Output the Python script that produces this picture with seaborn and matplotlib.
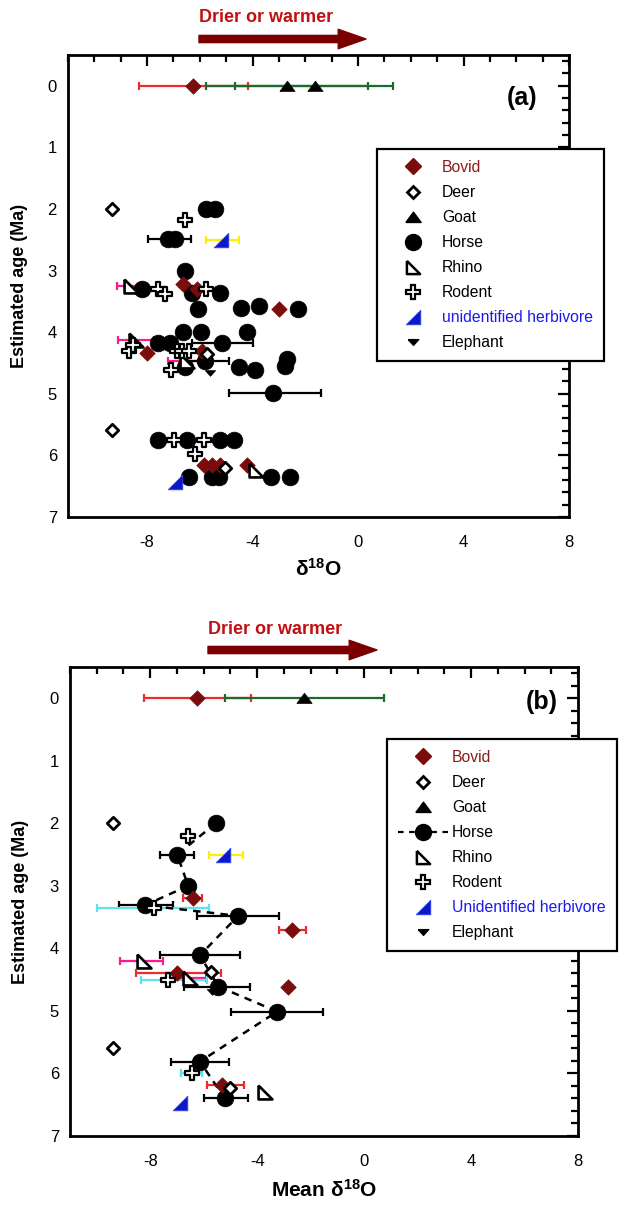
import matplotlib
matplotlib.use("Agg")
import matplotlib.pyplot as plt
import seaborn as sns
from matplotlib.lines import Line2D
from matplotlib.ticker import MultipleLocator, FixedLocator

# ---------------- Panel (a) data ----------------
a_bovid_x = [-6.26, -6.63, -6.10, -3.00, -8.00, -5.92, -5.86, -5.54, -5.22, -4.22]
a_bovid_y = [0.0, 3.22, 3.30, 3.62, 4.33, 4.30, 6.15, 6.15, 6.15, 6.15]
a_deer_x = [-9.35, -5.73, -9.35, -5.03]
a_deer_y = [2.0, 4.36, 5.58, 6.20]
a_goat_x = [-2.69, -1.63]
a_goat_y = [0.0, 0.0]
a_horse_x = [-5.77, -5.41, -7.20, -6.95, -6.56, -8.19, -6.30, -5.22, -6.06, -4.45, -3.74, -2.27,
             -6.63, -5.95, -4.20, -7.59, -7.14, -5.15, -5.81, -6.56, -4.50, -3.91, -2.78, -2.69,
             -3.23, -7.59, -6.50, -5.22, -4.70, -6.43, -5.54, -5.28, -3.30, -2.59]
a_horse_y = [2.0, 2.0, 2.48, 2.48, 3.0, 3.30, 3.36, 3.36, 3.62, 3.60, 3.58, 3.62,
             4.0, 4.0, 3.99, 4.18, 4.18, 4.18, 4.47, 4.56, 4.56, 4.62, 4.55, 4.44,
             4.98, 5.75, 5.75, 5.75, 5.75, 6.35, 6.35, 6.35, 6.35, 6.35]
a_rhino_x = [-8.60, -8.42, -6.50, -3.87]
a_rhino_y = [3.25, 4.13, 4.46, 6.24]
a_rodent_x = [-6.56, -7.59, -7.33, -5.77, -8.68, -8.55, -6.88, -6.69, -6.43, -7.08, -6.99, -5.83, -6.20]
a_rodent_y = [2.18, 3.30, 3.38, 3.30, 4.30, 4.20, 4.30, 4.30, 4.30, 4.62, 5.75, 5.75, 5.97]
a_unid_x = [-5.20, -6.95]
a_unid_y = [2.50, 6.43]
a_eleph_x = [-5.63]
a_eleph_y = [4.66]

a_err_group = ["Bovid", "Goat", "Goat", "Horse", "Unid", "Rhino", "Rhino", "Horse", "Rhino", "Horse", "Horse"]
a_err_x = [-6.24, -2.69, -1.66, -7.15, -5.14, -8.60, -8.42, -5.15, -6.50, -5.81, -3.15]
a_err_y = [0.0, 0.0, 0.0, 2.48, 2.50, 3.25, 4.13, 4.18, 4.46, 4.47, 4.98]
a_err_xerr = [2.07, 3.08, 3.00, 0.80, 0.63, 0.55, 0.70, 1.15, 0.70, 0.90, 1.75]

# ---------------- Panel (b) data ----------------
b_bovid_x = [-6.24, -6.41, -2.68, -7.01, -2.84, -5.31]
b_bovid_y = [0.0, 3.20, 3.71, 4.39, 4.61, 6.19]
b_deer_x = [-9.38, -5.73, -9.38, -5.02]
b_deer_y = [2.0, 4.37, 5.60, 6.24]
b_goat_x = [-2.24]
b_goat_y = [0.0]
b_horse_x = [-5.55, -6.99, -6.58, -8.20, -4.71, -6.14, -5.45, -3.25, -6.14, -5.21]
b_horse_y = [2.0, 2.50, 3.0, 3.31, 3.48, 4.11, 4.61, 5.01, 5.81, 6.40]
b_rhino_x = [-8.23, -6.51, -3.71]
b_rhino_y = [4.20, 4.48, 6.29]
b_rodent_x = [-6.58, -7.85, -7.33, -6.45]
b_rodent_y = [2.21, 3.35, 4.50, 6.0]
b_unid_x = [-5.27, -6.89]
b_unid_y = [2.50, 6.48]
b_eleph_x = [-5.70]
b_eleph_y = [4.70]

b_err_group = ["Bovid", "Goat", "Horse", "Unid", "Bovid", "Horse", "Rodent", "Horse", "Bovid",
               "Horse", "Rhino", "Bovid", "Rhino", "Rodent", "Horse", "Horse", "Horse", "Rodent",
               "Bovid", "Horse"]
b_err_x = [-6.24, -2.24, -6.99, -5.16, -6.41, -8.16, -7.90, -4.71, -2.68,
           -6.14, -8.32, -6.95, -6.50, -7.12, -5.50, -3.25, -6.14, -6.45,
           -5.20, -5.15]
b_err_y = [0.0, 0.0, 2.50, 2.50, 3.20, 3.31, 3.35, 3.48, 3.71,
           4.11, 4.20, 4.39, 4.48, 4.50, 4.61, 5.01, 5.81, 6.0,
           6.19, 6.40]
b_err_xerr = [2.00, 2.98, 0.63, 0.64, 0.35, 1.00, 2.10, 1.53, 0.49,
              1.50, 0.81, 1.58, 0.60, 1.23, 1.23, 1.72, 1.07, 0.40,
              0.69, 0.82]

x_ticks = [-8, -4, 0, 4, 8]
y_ticks = [0, 1, 2, 3, 4, 5, 6, 7]

# ---------------- styles ----------------
sns.set_style("white")
plt.rcParams["font.family"] = ["Liberation Sans", "DejaVu Sans"]
plt.rcParams["mathtext.fontset"] = "custom"
plt.rcParams["mathtext.rm"] = "Liberation Sans"
plt.rcParams["mathtext.bf"] = "Liberation Sans:bold"
plt.rcParams["mathtext.default"] = "bf"
for k in ["text.color", "axes.labelcolor", "xtick.color", "ytick.color", "axes.edgecolor"]:
    plt.rcParams[k] = "black"

BOVID = "#7b0c0c"
UNID = "#0b17c8"
RHINO_M = [(-1, 1), (-1, -1), (1, -1), (-1, 1)]
UNID_M = [(1, 1), (1, -1), (-1, -1), (1, 1)]
GOAT_M = [(-1, -0.65), (1, -0.65), (0, 0.7), (-1, -0.65)]
ELEPH_M = [(-1, 0.55), (1, 0.55), (0, -0.55), (-1, 0.55)]

err_colors = {"Bovid": "#ee2a2a", "Goat": "#1c6b2c", "Horse": "black", "Unid": "#ffee00",
              "Rhino": "#ff1a8c", "Rodent": "#5ee3f2"}

sty = {
    "Horse": dict(marker="o", s=145, color="black", edgecolor="black", linewidth=0.5),
    "Bovid": dict(marker="D", s=62, color=BOVID, edgecolor=BOVID, linewidth=0.5),
    "Deer": dict(marker="D", s=40, color="white", edgecolor="black", linewidth=2.0),
    "Goat": dict(marker=GOAT_M, s=120, color="black", edgecolor="black", linewidth=0.5),
    "Rhino": dict(marker=RHINO_M, s=100, color="white", edgecolor="black", linewidth=1.9),
    "Rodent": dict(marker="P", s=110, color="white", edgecolor="black", linewidth=1.6),
    "Unid": dict(marker=UNID_M, s=110, color=UNID, edgecolor="#3344ee", linewidth=0.6),
    "Elephant": dict(marker=ELEPH_M, s=55, color="black", edgecolor="black", linewidth=0.5),
}

fig = plt.figure(figsize=(6.27, 12.06), dpi=100)
W, H = 627.0, 1206.0
ax_a = fig.add_axes([68 / W, 1 - 517 / H, (569 - 68) / W, (517 - 55) / H])
ax_b = fig.add_axes([70 / W, 1 - 1136 / H, (578 - 70) / W, (1136 - 667) / H])


def draw_panel(ax, series, err_group, err_x, err_y, err_xerr):
    for g, x, y, e in zip(err_group, err_x, err_y, err_xerr):
        ax.errorbar([x], [y], xerr=[e], fmt="none", ecolor=err_colors[g], elinewidth=1.6,
                    capsize=3.2, capthick=1.6, zorder=2)
    for name, (xs, ys) in series:
        sns.scatterplot(x=xs, y=ys, ax=ax, zorder=4, legend=False, **sty[name])


def style_axes(ax):
    ax.set_xlim(-11, 8)
    ax.set_ylim(7, -0.5)
    ax.xaxis.set_major_locator(FixedLocator(x_ticks))
    ax.xaxis.set_minor_locator(MultipleLocator(1))
    ax.yaxis.set_major_locator(FixedLocator(y_ticks))
    ax.yaxis.set_minor_locator(MultipleLocator(0.2))
    ax.set_xticklabels([str(t) for t in x_ticks])
    ax.set_yticklabels([str(t) for t in y_ticks])
    ax.tick_params(which="both", direction="in", top=True, right=True, width=1.6,
                   colors="black", labelcolor="black")
    ax.tick_params(which="major", length=8)
    ax.tick_params(which="minor", length=5)
    ax.tick_params(axis="x", which="major", pad=13, labelsize=12)
    ax.tick_params(axis="y", which="major", pad=8, labelsize=12)
    for sp in ax.spines.values():
        sp.set_linewidth(2)
        sp.set_color("black")
    ax.grid(False)
    ax.set_facecolor("white")


# Panel (a)
draw_panel(ax_a, [("Horse", (a_horse_x, a_horse_y)), ("Bovid", (a_bovid_x, a_bovid_y)),
                  ("Deer", (a_deer_x, a_deer_y)), ("Goat", (a_goat_x, a_goat_y)),
                  ("Rhino", (a_rhino_x, a_rhino_y)), ("Rodent", (a_rodent_x, a_rodent_y)),
                  ("Unid", (a_unid_x, a_unid_y)), ("Elephant", (a_eleph_x, a_eleph_y))],
           a_err_group, a_err_x, a_err_y, a_err_xerr)
style_axes(ax_a)

# Panel (b)
sns.lineplot(x=b_horse_x, y=b_horse_y, ax=ax_b, sort=False, estimator=None, color="black",
             linewidth=1.8, linestyle=(0, (3, 2.5)), zorder=3)
draw_panel(ax_b, [("Horse", (b_horse_x, b_horse_y)), ("Bovid", (b_bovid_x, b_bovid_y)),
                  ("Deer", (b_deer_x, b_deer_y)), ("Goat", (b_goat_x, b_goat_y)),
                  ("Rhino", (b_rhino_x, b_rhino_y)), ("Rodent", (b_rodent_x, b_rodent_y)),
                  ("Unid", (b_unid_x, b_unid_y)), ("Elephant", (b_eleph_x, b_eleph_y))],
           b_err_group, b_err_x, b_err_y, b_err_xerr)
style_axes(ax_b)

# Axis labels
for ax, xl, xlab_y, ylab_x in [(ax_a, "δ$^{18}$O", -0.1126, -0.096),
                               (ax_b, "Mean δ$^{18}$O", -0.115, -0.098)]:
    ax.set_xlabel(xl, fontsize=15, fontweight="bold", color="black")
    ax.xaxis.set_label_coords(0.5, xlab_y)
    ax.xaxis.label.set_va("center")
    ax.set_ylabel("Estimated age (Ma)", fontsize=13, fontweight="bold", color="black")
    ax.yaxis.set_label_coords(ylab_x, 0.5)
    ax.yaxis.label.set_va("center")

ax_a.text(0.907, 0.907, "(a)", transform=ax_a.transAxes, fontsize=18, fontweight="bold",
          ha="center", va="center", color="black")
ax_b.text(0.928, 0.925, "(b)", transform=ax_b.transAxes, fontsize=18, fontweight="bold",
          ha="center", va="center", color="black")

# "Drier or warmer" arrows
for tx, ty, x0, x1, ay in [(266, 18, 199, 366, 39), (275, 629, 208, 377, 650)]:
    fig.text(tx / W, 1 - ty / H, "Drier or warmer", color="#c21010", fontsize=13,
             fontweight="bold", ha="center", va="center")
    fig.patches.append(matplotlib.patches.FancyArrowPatch(
        (x0 / W, 1 - ay / H), (x1 / W, 1 - ay / H), transform=fig.transFigure,
        arrowstyle="simple,head_length=1.0,head_width=0.7,tail_width=0.26",
        mutation_scale=20, color="#7a0000", shrinkA=0, shrinkB=0))


# Legends
def make_handles(horse_line):
    hs = [
        Line2D([], [], ls="none", marker="D", ms=7.8, mfc=BOVID, mec=BOVID),
        Line2D([], [], ls="none", marker="D", ms=6.3, mfc="white", mec="black", mew=2),
        Line2D([], [], ls="none", marker=GOAT_M, ms=11, mfc="black", mec="black"),
        Line2D([], [], ls=(0, (2.5, 2.5)) if horse_line else "none", lw=1.6, color="black",
               marker="o", ms=11.5, mfc="black", mec="black"),
        Line2D([], [], ls="none", marker=RHINO_M, ms=9.5, mfc="white", mec="black", mew=1.8),
        Line2D([], [], ls="none", marker="P", ms=10.5, mfc="white", mec="black", mew=1.6),
        Line2D([], [], ls="none", marker=UNID_M, ms=10.5, mfc=UNID, mec="#3344ee", mew=0.6),
        Line2D([], [], ls="none", marker=ELEPH_M, ms=7.5, mfc="black", mec="black"),
    ]
    return hs


for (lx, ly, unid_label, horse_line) in [(377, 149, "unidentified herbivore", False),
                                         (387, 739, "Unidentified herbivore", True)]:
    labels = ["Bovid", "Deer", "Goat", "Horse", "Rhino", "Rodent", unid_label, "Elephant"]
    leg = fig.legend(make_handles(horse_line), labels, loc="upper left",
                     bbox_to_anchor=(lx / W, 1 - ly / H), bbox_transform=fig.transFigure,
                     borderaxespad=0, frameon=True, fancybox=False, framealpha=1,
                     edgecolor="black", fontsize=11.3, labelspacing=0.64,
                     handlelength=3.2, handletextpad=0.25, borderpad=0.7)
    leg.get_frame().set_linewidth(1.6)
    texts = leg.get_texts()
    for t in texts:
        t.set_color("black")
    texts[0].set_color("#8b1a1a")
    texts[6].set_color("#1a1aee")

fig.savefig("out.png", dpi=100)
